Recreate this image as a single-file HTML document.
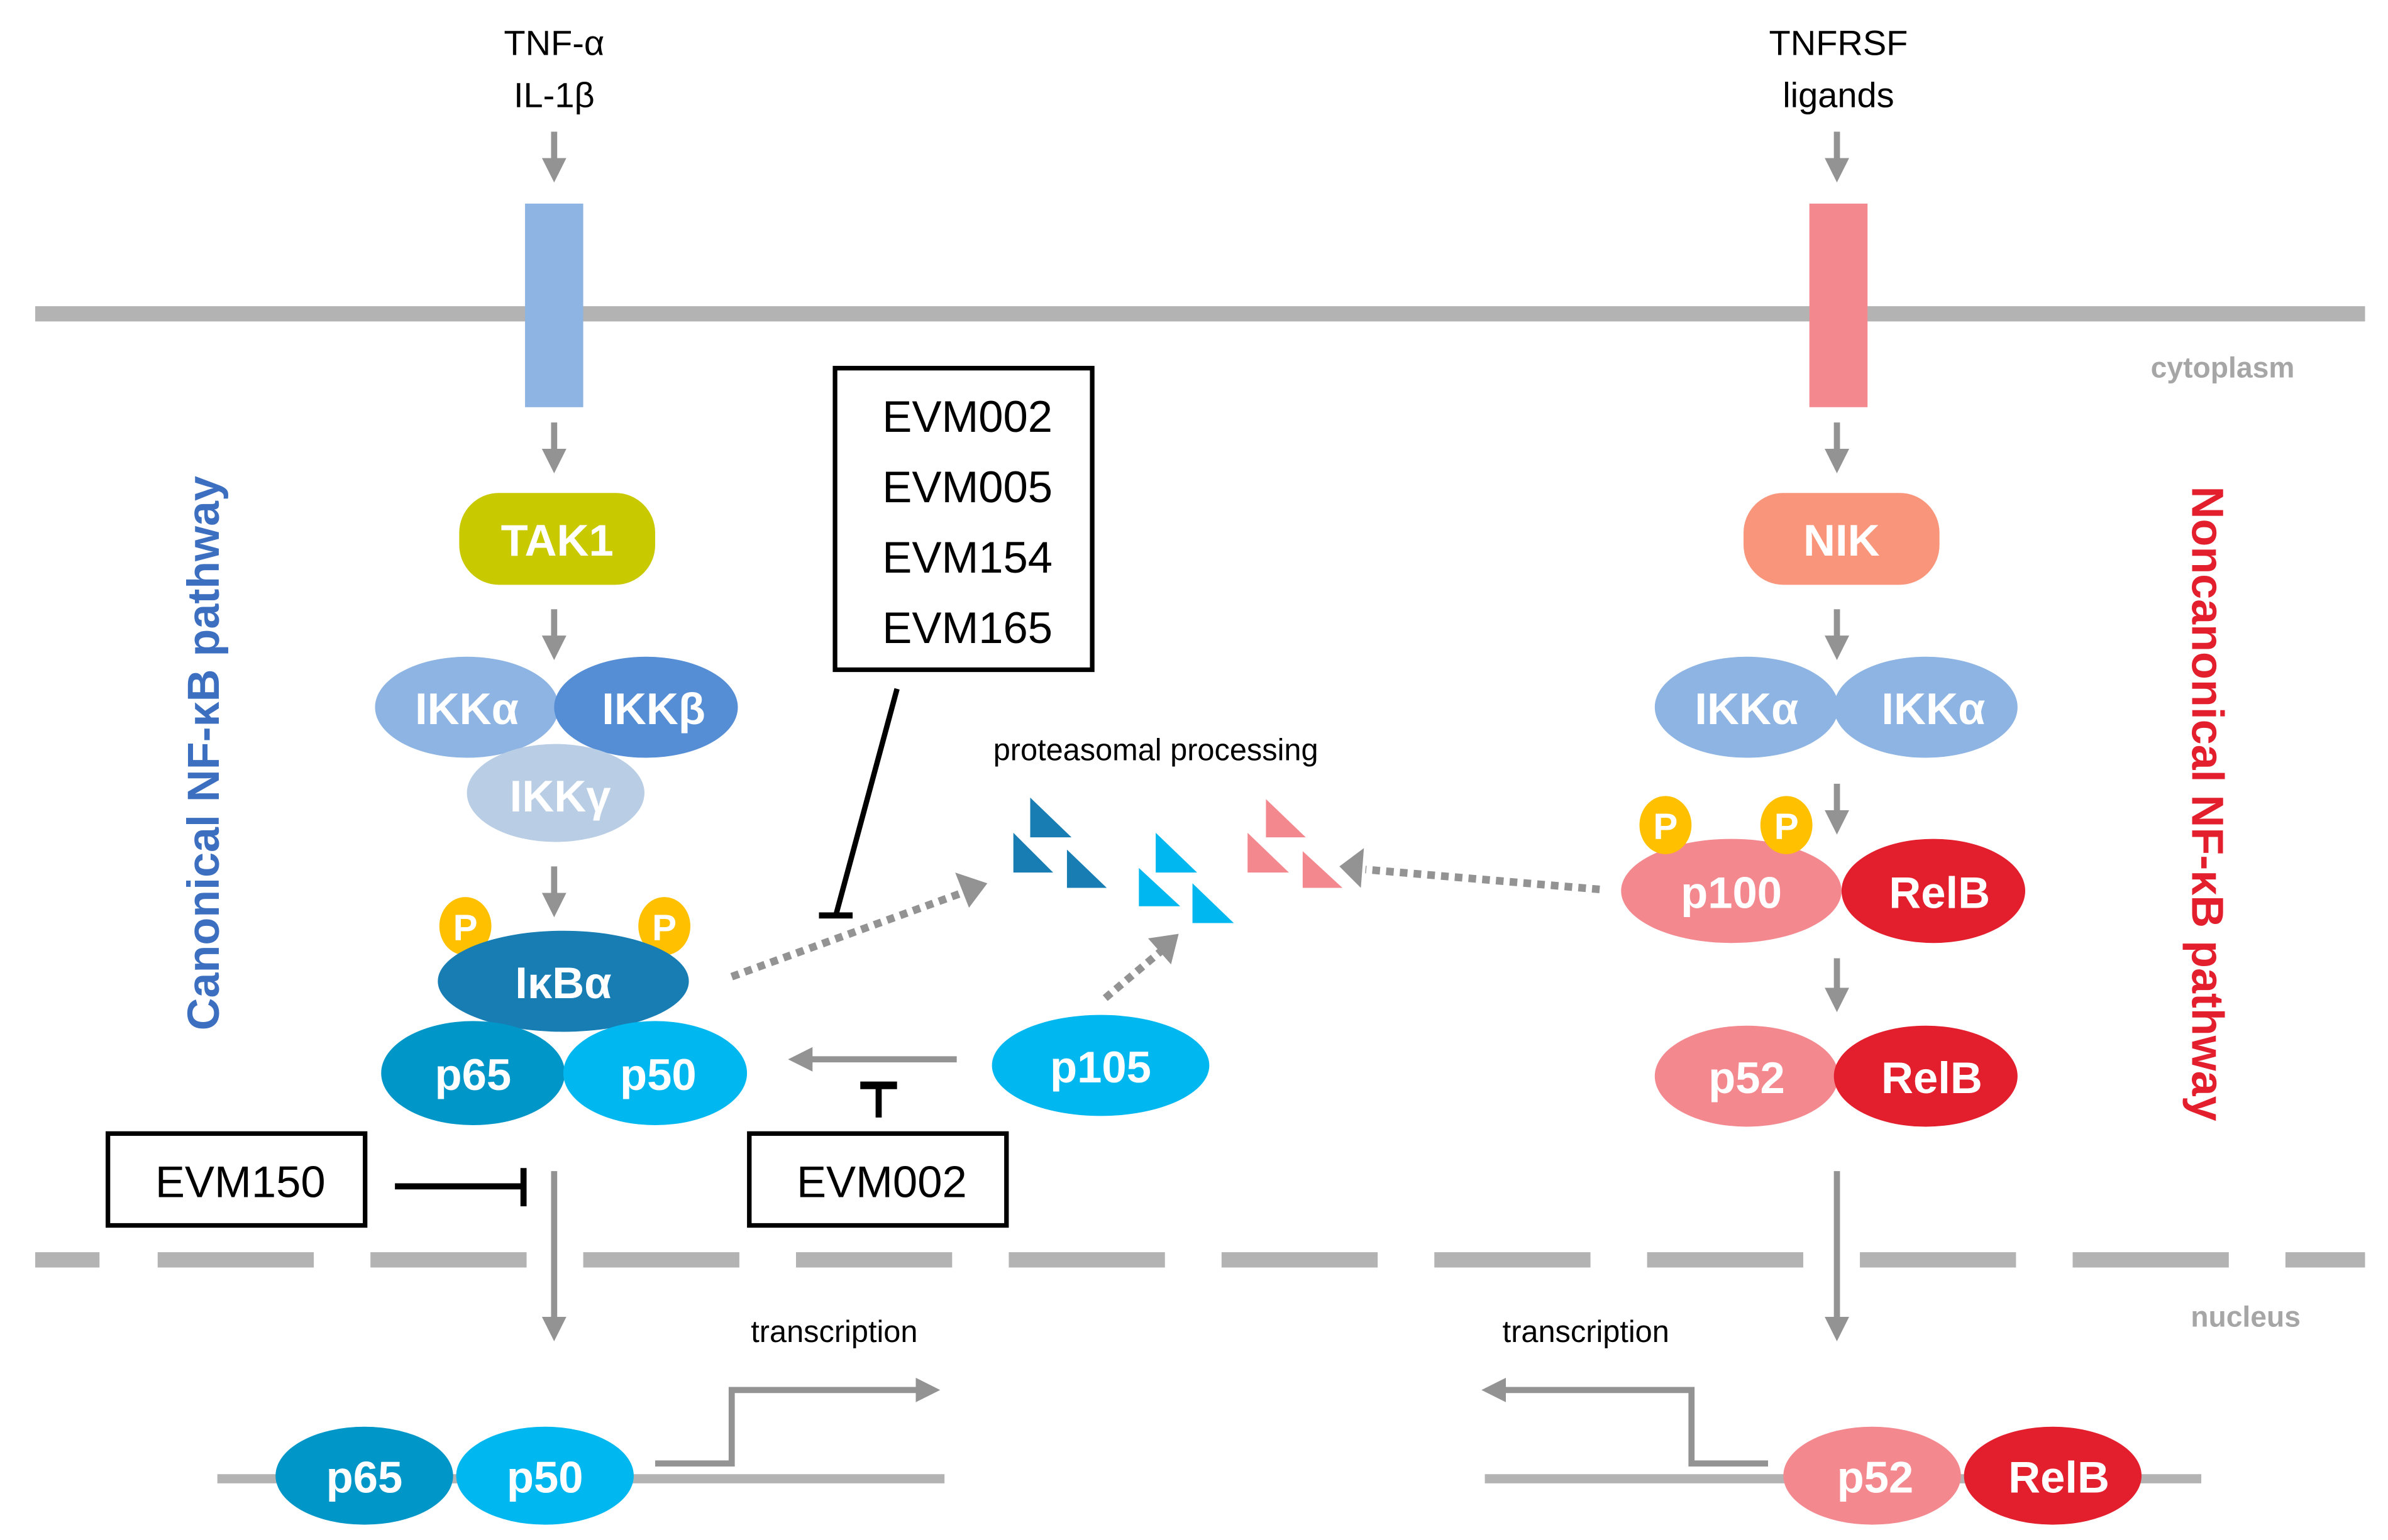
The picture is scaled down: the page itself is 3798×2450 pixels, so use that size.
<!DOCTYPE html>
<html><head><meta charset="utf-8"><style>
html,body{margin:0;padding:0;background:#fff;}
svg{display:block;}
text{font-family:"Liberation Sans",sans-serif;}
.w{fill:#fff;font-weight:bold;font-size:29px;text-anchor:middle;dominant-baseline:central;}
.b{fill:#000;font-size:29px;text-anchor:middle;dominant-baseline:central;}
.g{stroke:#939393;stroke-width:4;fill:none;}
</style></head><body>
<svg width="3798" height="2450" viewBox="0 0 1560 1006" preserveAspectRatio="none" xmlns="http://www.w3.org/2000/svg">
<defs>
<marker id="ah" markerWidth="4" markerHeight="4" refX="2.2" refY="2" orient="auto" markerUnits="strokeWidth"><path d="M0,0 L4,2 L0,4 Z" fill="#939393"/></marker>
</defs>
<line x1="23" y1="205" x2="1545" y2="205" stroke="#b3b3b3" stroke-width="10"/>
<line x1="23" y1="823" x2="1545" y2="823" stroke="#b3b3b3" stroke-width="10" stroke-dasharray="42 38 102 37 102 37 102 37 102 37 102 37 102 37 102 37 102 37 102 37 102 37 102 37"/>
<text x="1452" y="240" font-size="19" font-weight="bold" fill="#a6a6a6" text-anchor="middle" dominant-baseline="central">cytoplasm</text>
<text x="1467" y="860" font-size="19" font-weight="bold" fill="#a6a6a6" text-anchor="middle" dominant-baseline="central">nucleus</text>

<text x="362" y="28" font-size="23" text-anchor="middle" dominant-baseline="central">TNF-α</text>
<text x="362" y="62" font-size="23" text-anchor="middle" dominant-baseline="central">IL-1β</text>
<line class="g" x1="362" y1="86" x2="362" y2="112" marker-end="url(#ah)"/>
<rect x="343" y="133" width="38" height="133" fill="#8db4e2"/>
<line class="g" x1="362" y1="276" x2="362" y2="302" marker-end="url(#ah)"/>
<rect x="300" y="322" width="128" height="60" rx="26" fill="#c9c900"/>
<text class="w" x="364" y="353">TAK1</text>
<line class="g" x1="362" y1="398" x2="362" y2="424" marker-end="url(#ah)"/>
<ellipse cx="305" cy="462" rx="60" ry="33" fill="#8db4e2"/>
<ellipse cx="422" cy="462" rx="60" ry="33" fill="#558ed5"/>
<ellipse cx="363" cy="518" rx="58" ry="32" fill="#b9cde5"/>
<text class="w" x="305" y="463">IKKα</text>
<text class="w" x="427" y="463">IKKβ</text>
<text class="w" x="366" y="520">IKKγ</text>
<line class="g" x1="362" y1="566" x2="362" y2="592" marker-end="url(#ah)"/>
<ellipse cx="304" cy="605" rx="17" ry="19" fill="#ffc000"/>
<ellipse cx="434" cy="605" rx="17" ry="19" fill="#ffc000"/>
<text x="304" y="606" font-size="24" font-weight="bold" fill="#fff" text-anchor="middle" dominant-baseline="central">P</text>
<text x="434" y="606" font-size="24" font-weight="bold" fill="#fff" text-anchor="middle" dominant-baseline="central">P</text>
<ellipse cx="368" cy="641" rx="82" ry="33" fill="#177db3"/>
<text class="w" x="368" y="642">IκBα</text>
<ellipse cx="309" cy="701" rx="60" ry="34" fill="#0097c8"/>
<ellipse cx="428" cy="701" rx="60" ry="34" fill="#00b8ef"/>
<text class="w" x="309" y="702">p65</text>
<text class="w" x="430" y="702">p50</text>

<text x="133" y="492" font-size="29.5" font-weight="bold" fill="#3d6fc0" text-anchor="middle" dominant-baseline="central" transform="rotate(-90 133 492)">Canonical NF-κB pathway</text>

<rect x="545.5" y="240.5" width="168" height="197" fill="#fff" stroke="#000" stroke-width="3"/>
<text class="b" x="632" y="272">EVM002</text>
<text class="b" x="632" y="318">EVM005</text>
<text class="b" x="632" y="364">EVM154</text>
<text class="b" x="632" y="410">EVM165</text>
<line x1="586" y1="450" x2="546" y2="598" stroke="#000" stroke-width="3.5"/>
<line x1="535" y1="598" x2="557" y2="598" stroke="#000" stroke-width="4"/>

<text x="755" y="490" font-size="20" text-anchor="middle" dominant-baseline="central">proteasomal processing</text>

<g fill="#177db3">
<path d="M673,521 L673,547 L700,547 Z"/><path d="M662,544 L662,570 L688,570 Z"/><path d="M697,555 L697,580 L723,580 Z"/>
</g>
<g fill="#00b8ef">
<path d="M755,544 L755,570 L782,570 Z"/><path d="M744,567 L744,592 L771,592 Z"/><path d="M779,577 L779,603 L806,603 Z"/>
</g>
<g fill="#f4888f">
<path d="M827,522 L827,547 L853,547 Z"/><path d="M815,544 L815,570 L842,570 Z"/><path d="M851,556 L851,580 L877,580 Z"/>
</g>
<line x1="478" y1="638" x2="632" y2="582" stroke="#939393" stroke-width="5" stroke-dasharray="5 4"/>
<path d="M645,577 L624,570 L633,593 Z" fill="#939393"/>
<line x1="722" y1="652" x2="760" y2="620" stroke="#939393" stroke-width="5" stroke-dasharray="5 4"/>
<path d="M770,610 L750,613 L765,630 Z" fill="#939393"/>
<line x1="1045" y1="581" x2="892" y2="568" stroke="#939393" stroke-width="5" stroke-dasharray="5 4"/>
<path d="M875,566 L891,554 L889,580 Z" fill="#939393"/>

<ellipse cx="719" cy="696" rx="71" ry="33" fill="#00b8ef"/>
<text class="w" x="719" y="697">p105</text>
<line class="g" x1="625" y1="692" x2="522" y2="692" marker-end="url(#ah)"/>
<line x1="574" y1="708" x2="574" y2="730" stroke="#000" stroke-width="4"/>
<line x1="562" y1="709" x2="586" y2="709" stroke="#000" stroke-width="5"/>
<rect x="489.5" y="740.5" width="168" height="60" fill="#fff" stroke="#000" stroke-width="3"/>
<text class="b" x="576" y="772">EVM002</text>
<rect x="70.5" y="740.5" width="168" height="60" fill="#fff" stroke="#000" stroke-width="3"/>
<text class="b" x="157" y="772">EVM150</text>
<line x1="258" y1="775" x2="342" y2="775" stroke="#000" stroke-width="4"/>
<line x1="342" y1="763" x2="342" y2="788" stroke="#000" stroke-width="4"/>
<line class="g" x1="362" y1="765" x2="362" y2="869" marker-end="url(#ah)"/>

<text x="545" y="870" font-size="20" text-anchor="middle" dominant-baseline="central">transcription</text>
<line x1="142" y1="966" x2="617" y2="966" stroke="#b3b3b3" stroke-width="6"/>
<path class="g" d="M428,956 L478,956 L478,908 L607,908" marker-end="url(#ah)"/>
<ellipse cx="238" cy="964" rx="58" ry="32" fill="#0097c8"/>
<ellipse cx="356" cy="964" rx="58" ry="32" fill="#00b8ef"/>
<text class="w" x="238" y="965">p65</text>
<text class="w" x="356" y="965">p50</text>

<text x="1201" y="28" font-size="23" text-anchor="middle" dominant-baseline="central">TNFRSF</text>
<text x="1201" y="62" font-size="23" text-anchor="middle" dominant-baseline="central">ligands</text>
<line class="g" x1="1200" y1="86" x2="1200" y2="112" marker-end="url(#ah)"/>
<rect x="1182" y="133" width="38" height="133" fill="#f4888f"/>
<line class="g" x1="1200" y1="276" x2="1200" y2="302" marker-end="url(#ah)"/>
<rect x="1139" y="322" width="128" height="60" rx="26" fill="#f8957a"/>
<text class="w" x="1203" y="353">NIK</text>
<line class="g" x1="1200" y1="398" x2="1200" y2="424" marker-end="url(#ah)"/>
<ellipse cx="1141" cy="462" rx="60" ry="33" fill="#8db4e2"/>
<ellipse cx="1258" cy="462" rx="60" ry="33" fill="#8db4e2"/>
<text class="w" x="1141" y="463">IKKα</text>
<text class="w" x="1263" y="463">IKKα</text>
<line class="g" x1="1200" y1="512" x2="1200" y2="538" marker-end="url(#ah)"/>
<ellipse cx="1131" cy="582" rx="72" ry="34" fill="#f4888f"/>
<ellipse cx="1263" cy="582" rx="60" ry="34" fill="#e31e2d"/>
<ellipse cx="1088" cy="539" rx="17" ry="19" fill="#ffc000"/>
<ellipse cx="1167" cy="539" rx="17" ry="19" fill="#ffc000"/>
<text x="1088" y="540" font-size="24" font-weight="bold" fill="#fff" text-anchor="middle" dominant-baseline="central">P</text>
<text x="1167" y="540" font-size="24" font-weight="bold" fill="#fff" text-anchor="middle" dominant-baseline="central">P</text>
<text class="w" x="1131" y="583">p100</text>
<text class="w" x="1267" y="583">RelB</text>
<line class="g" x1="1200" y1="626" x2="1200" y2="654" marker-end="url(#ah)"/>
<ellipse cx="1141" cy="703" rx="60" ry="33" fill="#f4888f"/>
<ellipse cx="1258" cy="703" rx="60" ry="33" fill="#e31e2d"/>
<text class="w" x="1141" y="704">p52</text>
<text class="w" x="1262" y="704">RelB</text>
<line class="g" x1="1200" y1="765" x2="1200" y2="869" marker-end="url(#ah)"/>
<text x="1442" y="525" font-size="29.5" font-weight="bold" fill="#e31e2d" text-anchor="middle" dominant-baseline="central" transform="rotate(90 1442 525)">Noncanonical NF-κB pathway</text>

<text x="1036" y="870" font-size="20" text-anchor="middle" dominant-baseline="central">transcription</text>
<line x1="970" y1="966" x2="1438" y2="966" stroke="#b3b3b3" stroke-width="6"/>
<path class="g" d="M1155,956 L1105,956 L1105,908 L975,908" marker-end="url(#ah)"/>
<ellipse cx="1223" cy="964" rx="58" ry="32" fill="#f4888f"/>
<ellipse cx="1341" cy="964" rx="58" ry="32" fill="#e31e2d"/>
<text class="w" x="1225" y="965">p52</text>
<text class="w" x="1345" y="965">RelB</text>
</svg>
</body></html>
